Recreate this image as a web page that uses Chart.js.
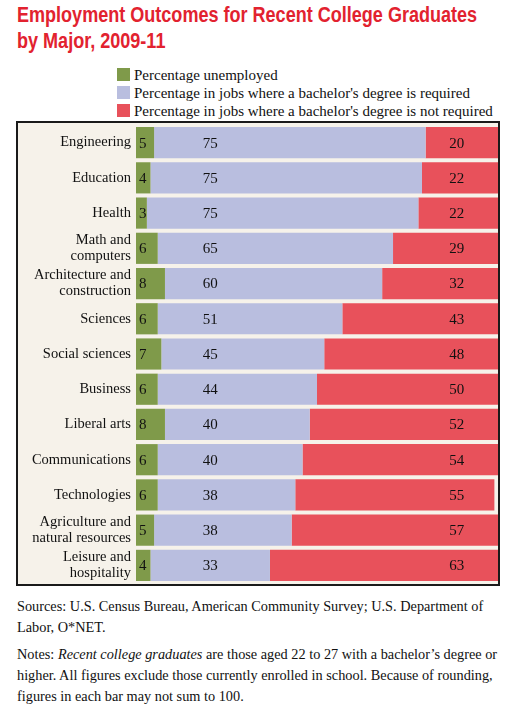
<!DOCTYPE html>
<html>
<head>
<meta charset="utf-8">
<script src="https://cdn.jsdelivr.net/npm/chart.js@4"></script>
<style>
  body { margin: 0; width: 512px; height: 720px; background: #fff; position: relative; font-family: "Liberation Serif", serif; color: #111; overflow: hidden; }
  #title { position: absolute; left: 17px; top: 2px; font-family: "Liberation Sans", sans-serif; font-weight: bold; font-size: 22px; line-height: 26px; color: #e2222f; white-space: nowrap; transform: scaleX(0.82); transform-origin: left top; }
  #legend { position: absolute; left: 117px; top: 66px; font-size: 15px; line-height: 18px; }
  #legend div { white-space: nowrap; }
  #legend span { display: inline-block; width: 13px; height: 13px; margin-right: 4px; vertical-align: -1px; }
  #box { position: absolute; left: 16px; top: 121px; width: 480px; height: 461px; border: 2px solid #1a1a1a; background: #f6f2ea; }
  #notes { position: absolute; left: 17px; top: 596px; width: 486px; font-size: 14.3px; line-height: 21px; }
  #notes p { margin: 0 0 6px 0; }
</style>
</head>
<body>
<div id="title">Employment Outcomes for Recent College Graduates<br>by Major, 2009-11</div>
<div id="legend"></div>
<div id="box"><canvas id="chart" width="480" height="461"></canvas></div>
<div id="notes">
  <p>Sources: U.S. Census Bureau, American Community Survey; U.S. Department of Labor, O*NET.</p>
  <p>Notes: <i>Recent college graduates</i> are those aged 22 to 27 with a bachelor’s degree or higher. All figures exclude those currently enrolled in school. Because of rounding, figures in each bar may not sum to 100.</p>
</div>
<script>
const majors = [
  'Engineering', 'Education', 'Health', ['Math and', 'computers'],
  ['Architecture and', 'construction'], 'Sciences', 'Social sciences',
  'Business', 'Liberal arts', 'Communications', 'Technologies',
  ['Agriculture and', 'natural resources'], ['Leisure and', 'hospitality']
];
const unemployed = [5, 4, 3, 6, 8, 6, 7, 6, 8, 6, 6, 5, 4];
const degreeRequired = [75, 75, 75, 65, 60, 51, 45, 44, 40, 40, 38, 38, 33];
const degreeNotRequired = [20, 22, 22, 29, 32, 43, 48, 50, 52, 54, 55, 57, 63];
const seriesNames = [
  'Percentage unemployed',
  "Percentage in jobs where a bachelor's degree is required",
  "Percentage in jobs where a bachelor's degree is not required"
];
const colors = ['#7f9a4a', '#b9bedf', '#e8515b'];

// legend in html, stacked like the print version
const legendEl = document.getElementById('legend');
seriesNames.forEach((name, i) => {
  const row = document.createElement('div');
  row.innerHTML = '<span style="background:' + colors[i] + '"></span>' + name;
  legendEl.appendChild(row);
});

// numbers inside the bars
const barLabels = {
  id: 'barLabels',
  afterDatasetsDraw(chart) {
    const ctx = chart.ctx;
    const xs = chart.scales.x;
    ctx.save();
    ctx.fillStyle = '#111';
    ctx.font = '15px "Liberation Serif", serif';
    ctx.textBaseline = 'middle';
    chart.getDatasetMeta(0).data.forEach((bar, i) => {
      ctx.textAlign = 'left';
      ctx.fillText(unemployed[i], xs.left + 3, bar.y + 1);
      ctx.textAlign = 'center';
      ctx.fillText(degreeRequired[i], xs.getPixelForValue(20.5), bar.y + 1);
      ctx.fillText(degreeNotRequired[i], xs.getPixelForValue(88.6), bar.y + 1);
    });
    ctx.restore();
  }
};

new Chart(document.getElementById('chart'), {
  type: 'bar',
  data: {
    labels: majors,
    datasets: [
      { label: seriesNames[0], data: unemployed, backgroundColor: colors[0] },
      { label: seriesNames[1], data: degreeRequired, backgroundColor: colors[1] },
      { label: seriesNames[2], data: degreeNotRequired, backgroundColor: colors[2] }
    ]
  },
  options: {
    indexAxis: 'y',
    responsive: false,
    animation: false,
    layout: { padding: { top: 2, bottom: 1, right: 0 } },
    datasets: { bar: { barPercentage: 1, categoryPercentage: 0.885 } },
    plugins: { legend: { display: false }, tooltip: { enabled: false } },
    scales: {
      x: { stacked: true, min: 0, max: 100, display: false },
      y: {
        stacked: true,
        grid: { display: false, drawTicks: false },
        border: { display: false },
        ticks: { color: '#111', padding: 5, autoSkip: false, font: { family: '"Liberation Serif", serif', size: 14.5, lineHeight: 1.1 } },
        afterFit(scale) {
          scale.width = 118;
          scale.paddingTop = 0;
          scale.paddingBottom = 0;
        }
      }
    }
  },
  plugins: [barLabels]
});
</script>
</body>
</html>
